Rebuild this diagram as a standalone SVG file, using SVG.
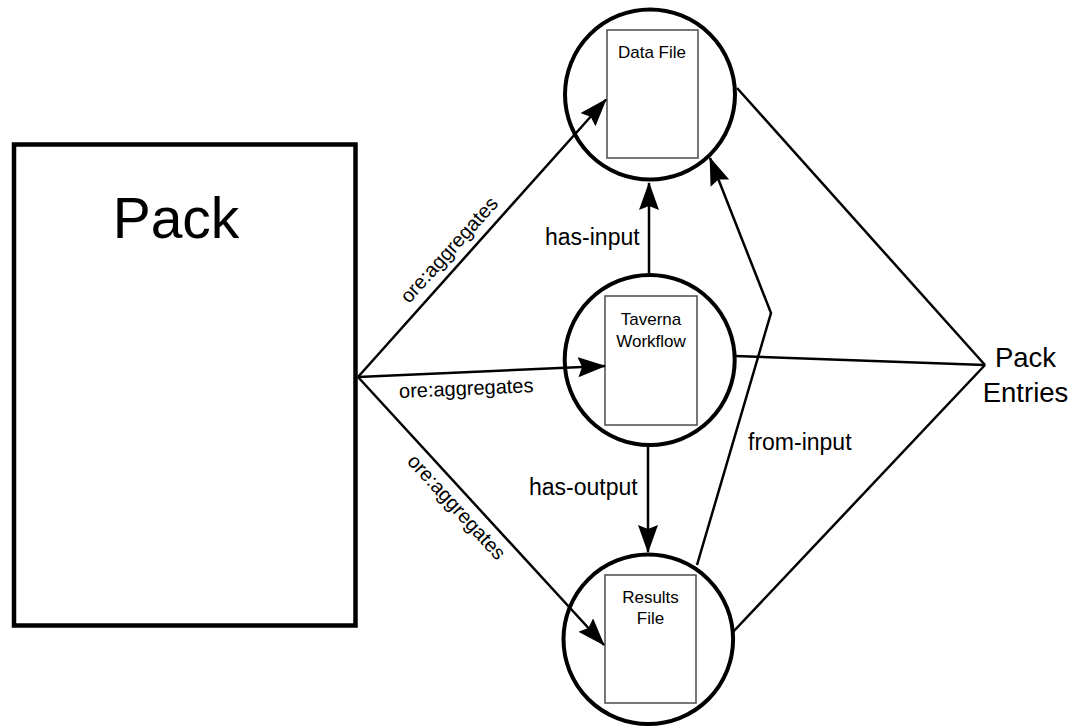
<svg xmlns="http://www.w3.org/2000/svg" width="1076" height="727" viewBox="0 0 1076 727">
<defs>
<style>
text{font-family:"Liberation Sans",Arial,sans-serif;fill:#000}
.c{fill:none;stroke:#000;stroke-width:4}
.doc{fill:#fff;stroke:#555;stroke-width:1.6}
.e{fill:none;stroke:#000;stroke-width:2.5}
.lbl{font-size:23px}
.sm{font-size:17px;text-anchor:middle}
.ag{font-size:20px;text-anchor:middle}
</style>
<marker id="ah" markerUnits="userSpaceOnUse" markerWidth="30" markerHeight="22" refX="27" refY="10" orient="auto">
<path d="M0,0 L28,10 L0,20 L4,10 z" fill="#000"/>
</marker>
</defs>
<rect width="1076" height="727" fill="#fff"/>
<g id="pack">
<rect x="14" y="144.5" width="341.5" height="481" fill="#fff" stroke="#000" stroke-width="4.5"/>
<text x="176" y="238" font-size="57" text-anchor="middle">Pack</text>
</g>
<g id="data-file">
<circle class="c" cx="650" cy="94.5" r="85"/>
<rect class="doc" x="607" y="30" width="91" height="128"/>
<text class="sm" x="652" y="58">Data File</text>
</g>
<g id="taverna-workflow">
<circle class="c" cx="649.7" cy="360" r="85"/>
<rect class="doc" x="605" y="296" width="92" height="129"/>
<text class="sm" x="651" y="325">Taverna</text>
<text class="sm" x="651" y="347">Workflow</text>
</g>
<g id="results-file">
<circle class="c" cx="648.3" cy="639.3" r="84.8"/>
<rect class="doc" x="605" y="575" width="91" height="128"/>
<text class="sm" x="650.5" y="603">Results</text>
<text class="sm" x="650.5" y="624">File</text>
</g>
<g id="pack-entries">
<text x="1025.5" y="367" font-size="27.5" text-anchor="middle">Pack</text>
<text x="1025.5" y="402" font-size="27.5" text-anchor="middle">Entries</text>
</g>
<g id="connectors">
<path class="e" d="M358,377 L606,99.5" marker-end="url(#ah)"/>
<path class="e" d="M358,377 L605,366" marker-end="url(#ah)"/>
<path class="e" d="M358,377 L604,645" marker-end="url(#ah)"/>
<path class="e" d="M649,273 L649,183" marker-end="url(#ah)"/>
<path class="e" d="M648,447 L648,552" marker-end="url(#ah)"/>
<path class="e" d="M697,565 L771,313 L710,158" marker-end="url(#ah)"/>
<path class="e" d="M737,88 L985,365"/>
<path class="e" d="M735,356 L985,365"/>
<path class="e" d="M733,632 L985,365"/>
<text class="ag" transform="translate(454,254.3) rotate(-47.9)">ore:aggregates</text>
<text class="ag" transform="translate(466.5,395) rotate(-2.5)">ore:aggregates</text>
<text class="ag" transform="translate(451.6,511.6) rotate(47.5)">ore:aggregates</text>
<text class="lbl" x="545" y="245">has-input</text>
<text class="lbl" x="529" y="495">has-output</text>
<text class="lbl" x="748" y="450">from-input</text>
</g>
</svg>
